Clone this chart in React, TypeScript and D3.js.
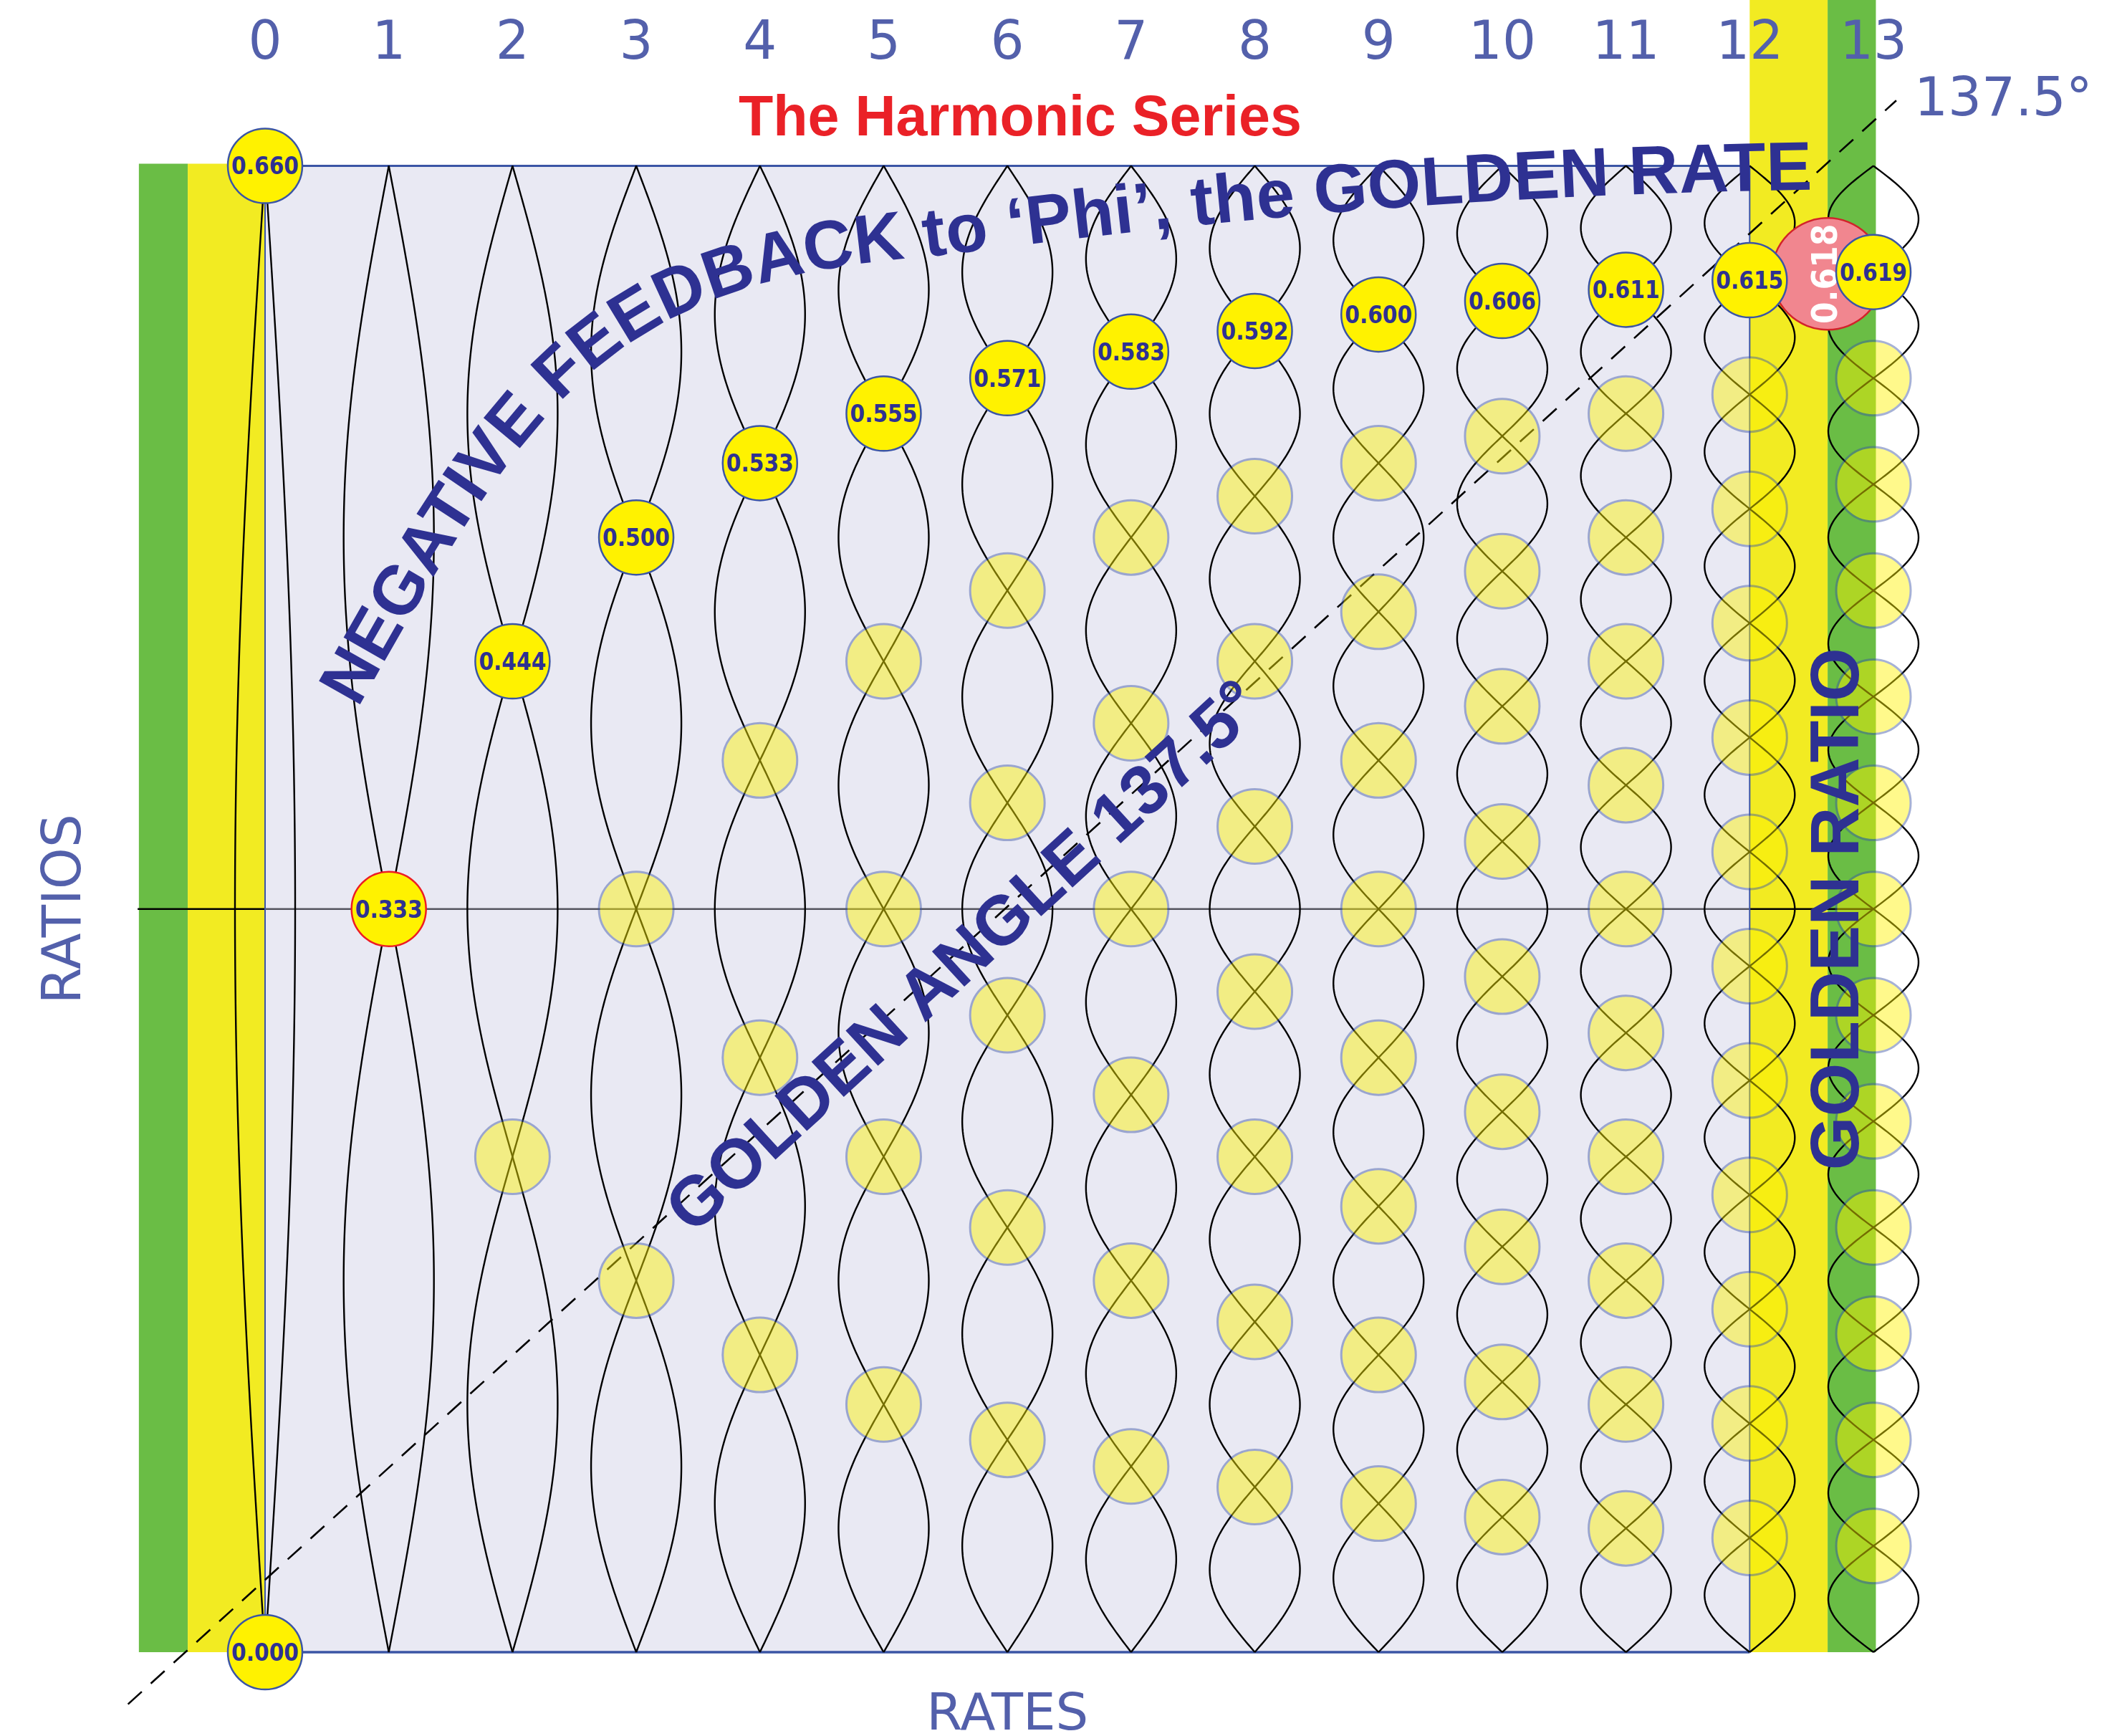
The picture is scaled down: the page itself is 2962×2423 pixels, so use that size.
import { useEffect, useRef } from "react"
import * as d3 from "d3"

const WIDTH = 2962
const HEIGHT = 2423

// harmonic number of each column (top axis)
const rates = [0, 1, 2, 3, 4, 5, 6, 7, 8, 9, 10, 11, 12, 13]
// number of loops drawn in each column
const loops = [1, 2, 3, 4, 5, 6, 7, 8, 9, 10, 11, 12, 13, 14]
// ratio printed on the first node of each column
const nodeLabels = ["0.660", "0.333", "0.444", "0.500", "0.533", "0.555", "0.571", "0.583", "0.592", "0.600", "0.606", "0.611", "0.615", "0.619"]
const baseLabel = "0.000"
const golden = { rate: 12.63, ratio: 0.0727, label: "0.618" }
const goldenAngle = 137.5
// dashed golden-angle line, [rate, ratio] end points
const goldenLine: [number, number][] = [[-1.108, 1.035], [13.185, -0.044]]
// baseline of the curved headline, two cubic segments in [rate, ratio]
const feedbackCurve: [number, number][] = [
  [0.75, 0.365], [2.12, 0.163], [2.72, 0.077], [5.385, 0.061],
  [8.25, 0.03], [10.19, 0.019], [12.53, 0.016],
]
// label of the slanted golden-angle text, [rate, ratio]
const angleLabelAt: [number, number] = [5.773, 0.543]
// coloured strips, in rate units; top "-1" means up to the page top
const bands = [
  { from: -1.02, to: -0.625, top: 0, kind: "green" },
  { from: -0.625, to: 0, top: 0, kind: "yellow" },
  { from: 12, to: 12.63, top: -1, kind: "yellow" },
  { from: 12.63, to: 13.02, top: -1, kind: "green" },
]

const colors: Record<string, string> = {
  green: "#6abd45",
  yellow: "#f2eb22",
  node: "#fff200",
  blue: "#3b55a5",
  navy: "#2e3192",
  axis: "#5360ab",
  red: "#ea2127",
}

export default function App() {
  const svgRef = useRef<SVGSVGElement>(null)

  useEffect(() => {
    if (!svgRef.current) return
    const svg = d3.select(svgRef.current)
    svg.selectAll("*").remove()

    const x = d3.scaleLinear().domain([0, 13]).range([370, 2615])
    const y = d3.scaleLinear().domain([0, 1]).range([231.5, 2306])

    const sans = "'Liberation Sans', Arial, sans-serif"
    const plain = "'DejaVu Sans', sans-serif"
    const narrow = "'DejaVu Sans Condensed', 'DejaVu Sans', sans-serif"

    // strips
    bands.forEach((b) => {
      const top = b.top < 0 ? 0 : y(b.top) - 3
      svg.append("rect")
        .attr("x", x(b.from)).attr("y", top)
        .attr("width", x(b.to) - x(b.from)).attr("height", y(1) - top)
        .attr("fill", colors[b.kind])
    })

    // middle line (shows grey through the lavender field)
    svg.append("line")
      .attr("x1", x(-1.03)).attr("x2", x(13))
      .attr("y1", y(0.5)).attr("y2", y(0.5))
      .attr("stroke", "#000").attr("stroke-width", 2.6)

    // lavender field
    svg.append("rect")
      .attr("x", x(0)).attr("y", y(0))
      .attr("width", x(12) - x(0)).attr("height", y(1) - y(0))
      .attr("fill", "rgb(202,202,226)").attr("opacity", 0.42)

    // field borders
    svg.append("line").attr("x1", x(0)).attr("x2", x(12)).attr("y1", y(0)).attr("y2", y(0))
      .attr("stroke", colors.blue).attr("stroke-width", 3)
    svg.append("line").attr("x1", x(0)).attr("x2", x(12)).attr("y1", y(1)).attr("y2", y(1))
      .attr("stroke", colors.blue).attr("stroke-width", 3.5)
    ;[0, 12].forEach((r) => {
      svg.append("line").attr("x1", x(r)).attr("x2", x(r)).attr("y1", y(0)).attr("y2", y(1))
        .attr("stroke", colors.blue).attr("stroke-width", 2)
    })

    // standing waves
    const ts = d3.range(0, 1.00001, 1 / 600)
    rates.forEach((r, i) => {
      const amp = r === 0 ? 42 : 63
      ;[1, -1].forEach((s) => {
        const line = d3.line<number>()
          .x((t) => x(r) + s * amp * Math.sin(Math.PI * loops[i] * t))
          .y((t) => y(t))
        svg.append("path").attr("d", line(ts))
          .attr("fill", "none").attr("stroke", "#000").attr("stroke-width", 2.4)
      })
    })

    // golden angle dashed line
    svg.append("line")
      .attr("x1", x(goldenLine[0][0])).attr("y1", y(goldenLine[0][1]))
      .attr("x2", x(goldenLine[1][0])).attr("y2", y(goldenLine[1][1]))
      .attr("stroke", "#000").attr("stroke-width", 2.6).attr("stroke-dasharray", "26 17")

    // the other nodes, translucent
    rates.forEach((r, i) => {
      for (let k = 2; k < loops[i]; k++) {
        svg.append("circle")
          .attr("cx", x(r)).attr("cy", y(k / loops[i])).attr("r", 52)
          .attr("fill", colors.node).attr("stroke", colors.blue).attr("stroke-width", 3)
          .attr("opacity", 0.45)
      }
    })

    // golden ratio marker
    svg.append("circle")
      .attr("cx", x(golden.rate)).attr("cy", y(golden.ratio)).attr("r", 78)
      .attr("fill", "#f1868f").attr("stroke", "#d2232a").attr("stroke-width", 2.5)
    svg.append("text")
      .attr("transform", `translate(${x(golden.rate) - 5},${y(golden.ratio)}) rotate(-90)`)
      .attr("text-anchor", "middle").attr("dy", "0.36em")
      .attr("font-family", narrow).attr("font-stretch", "condensed").attr("font-weight", "bold")
      .attr("font-size", 49).attr("fill", "#fff")
      .text(golden.label)

    // labelled first nodes
    const labelled = rates.map((r, i) => ({
      r, label: nodeLabels[i], ratio: r === 0 ? 0 : 1 / loops[i],
    }))
    labelled.push({ r: 0, label: baseLabel, ratio: 1 })
    labelled.forEach((d) => {
      svg.append("circle")
        .attr("cx", x(d.r)).attr("cy", y(d.ratio)).attr("r", 52)
        .attr("fill", colors.node)
        .attr("stroke", d.r === 1 ? "#ed1c24" : colors.blue).attr("stroke-width", 2.5)
      svg.append("text")
        .attr("x", x(d.r)).attr("y", y(d.ratio)).attr("dy", "0.36em")
        .attr("text-anchor", "middle")
        .attr("font-family", narrow).attr("font-stretch", "condensed").attr("font-weight", "bold")
        .attr("font-size", 33).attr("fill", colors.navy)
        .text(d.label)
    })

    // top axis labels
    rates.forEach((r) => {
      svg.append("text")
        .attr("x", x(r)).attr("y", 82).attr("text-anchor", "middle")
        .attr("font-family", plain).attr("font-size", 74).attr("fill", colors.axis)
        .text(String(r))
    })
    svg.append("text")
      .attr("x", x(goldenLine[1][0]) + 25).attr("y", y(goldenLine[1][1]) + 21)
      .attr("font-family", plain).attr("font-size", 74).attr("fill", colors.axis)
      .text(`${goldenAngle}°`)

    svg.append("text")
      .attr("transform", `translate(112,${y(0.5)}) rotate(-90)`)
      .attr("text-anchor", "middle")
      .attr("font-family", plain).attr("font-size", 74).attr("fill", colors.axis)
      .text("RATIOS")
    svg.append("text")
      .attr("x", (x(0) + x(12)) / 2).attr("y", 2414).attr("text-anchor", "middle")
      .attr("font-family", plain).attr("font-size", 72).attr("fill", colors.axis)
      .text("RATES")

    svg.append("text")
      .attr("x", 1424).attr("y", 189).attr("text-anchor", "middle")
      .attr("font-family", sans).attr("font-weight", "bold").attr("font-size", 79)
      .attr("fill", colors.red)
      .text("The Harmonic Series")

    // curved headline
    const p = d3.path()
    const c = feedbackCurve.map(([a, b]) => [x(a), y(b)])
    p.moveTo(c[0][0], c[0][1])
    p.bezierCurveTo(c[1][0], c[1][1], c[2][0], c[2][1], c[3][0], c[3][1])
    p.bezierCurveTo(c[4][0], c[4][1], c[5][0], c[5][1], c[6][0], c[6][1])
    const curve = svg.append("defs").append("path").attr("id", "feedback-curve").attr("d", p.toString())
    const curveLength = (curve.node() as SVGPathElement).getTotalLength()
    svg.append("text")
      .attr("font-family", sans).attr("font-weight", "bold").attr("font-size", 96)
      .attr("fill", colors.navy)
      .append("textPath").attr("href", "#feedback-curve")
      .attr("textLength", curveLength - 4).attr("lengthAdjust", "spacing")
      .text("NEGATIVE FEEDBACK to \u2018Phi\u2019, the GOLDEN RATE")

    svg.append("text")
      .attr("transform", `translate(${x(angleLabelAt[0])},${y(angleLabelAt[1])}) rotate(${-(180 - goldenAngle)})`)
      .attr("text-anchor", "middle")
      .attr("font-family", sans).attr("font-weight", "bold").attr("font-size", 97)
      .attr("fill", colors.navy)
      .text(`GOLDEN ANGLE ${goldenAngle}°`)

    svg.append("text")
      .attr("transform", `translate(2594,${y(0.5)}) rotate(-90)`)
      .attr("text-anchor", "middle")
      .attr("font-family", sans).attr("font-weight", "bold").attr("font-size", 96)
      .attr("fill", colors.navy)
      .text("GOLDEN RATIO")
  }, [])

  return (
    <svg
      ref={svgRef}
      width={WIDTH}
      height={HEIGHT}
      style={{ position: "absolute", left: 0, top: 0, background: "#fff" }}
    />
  )
}
